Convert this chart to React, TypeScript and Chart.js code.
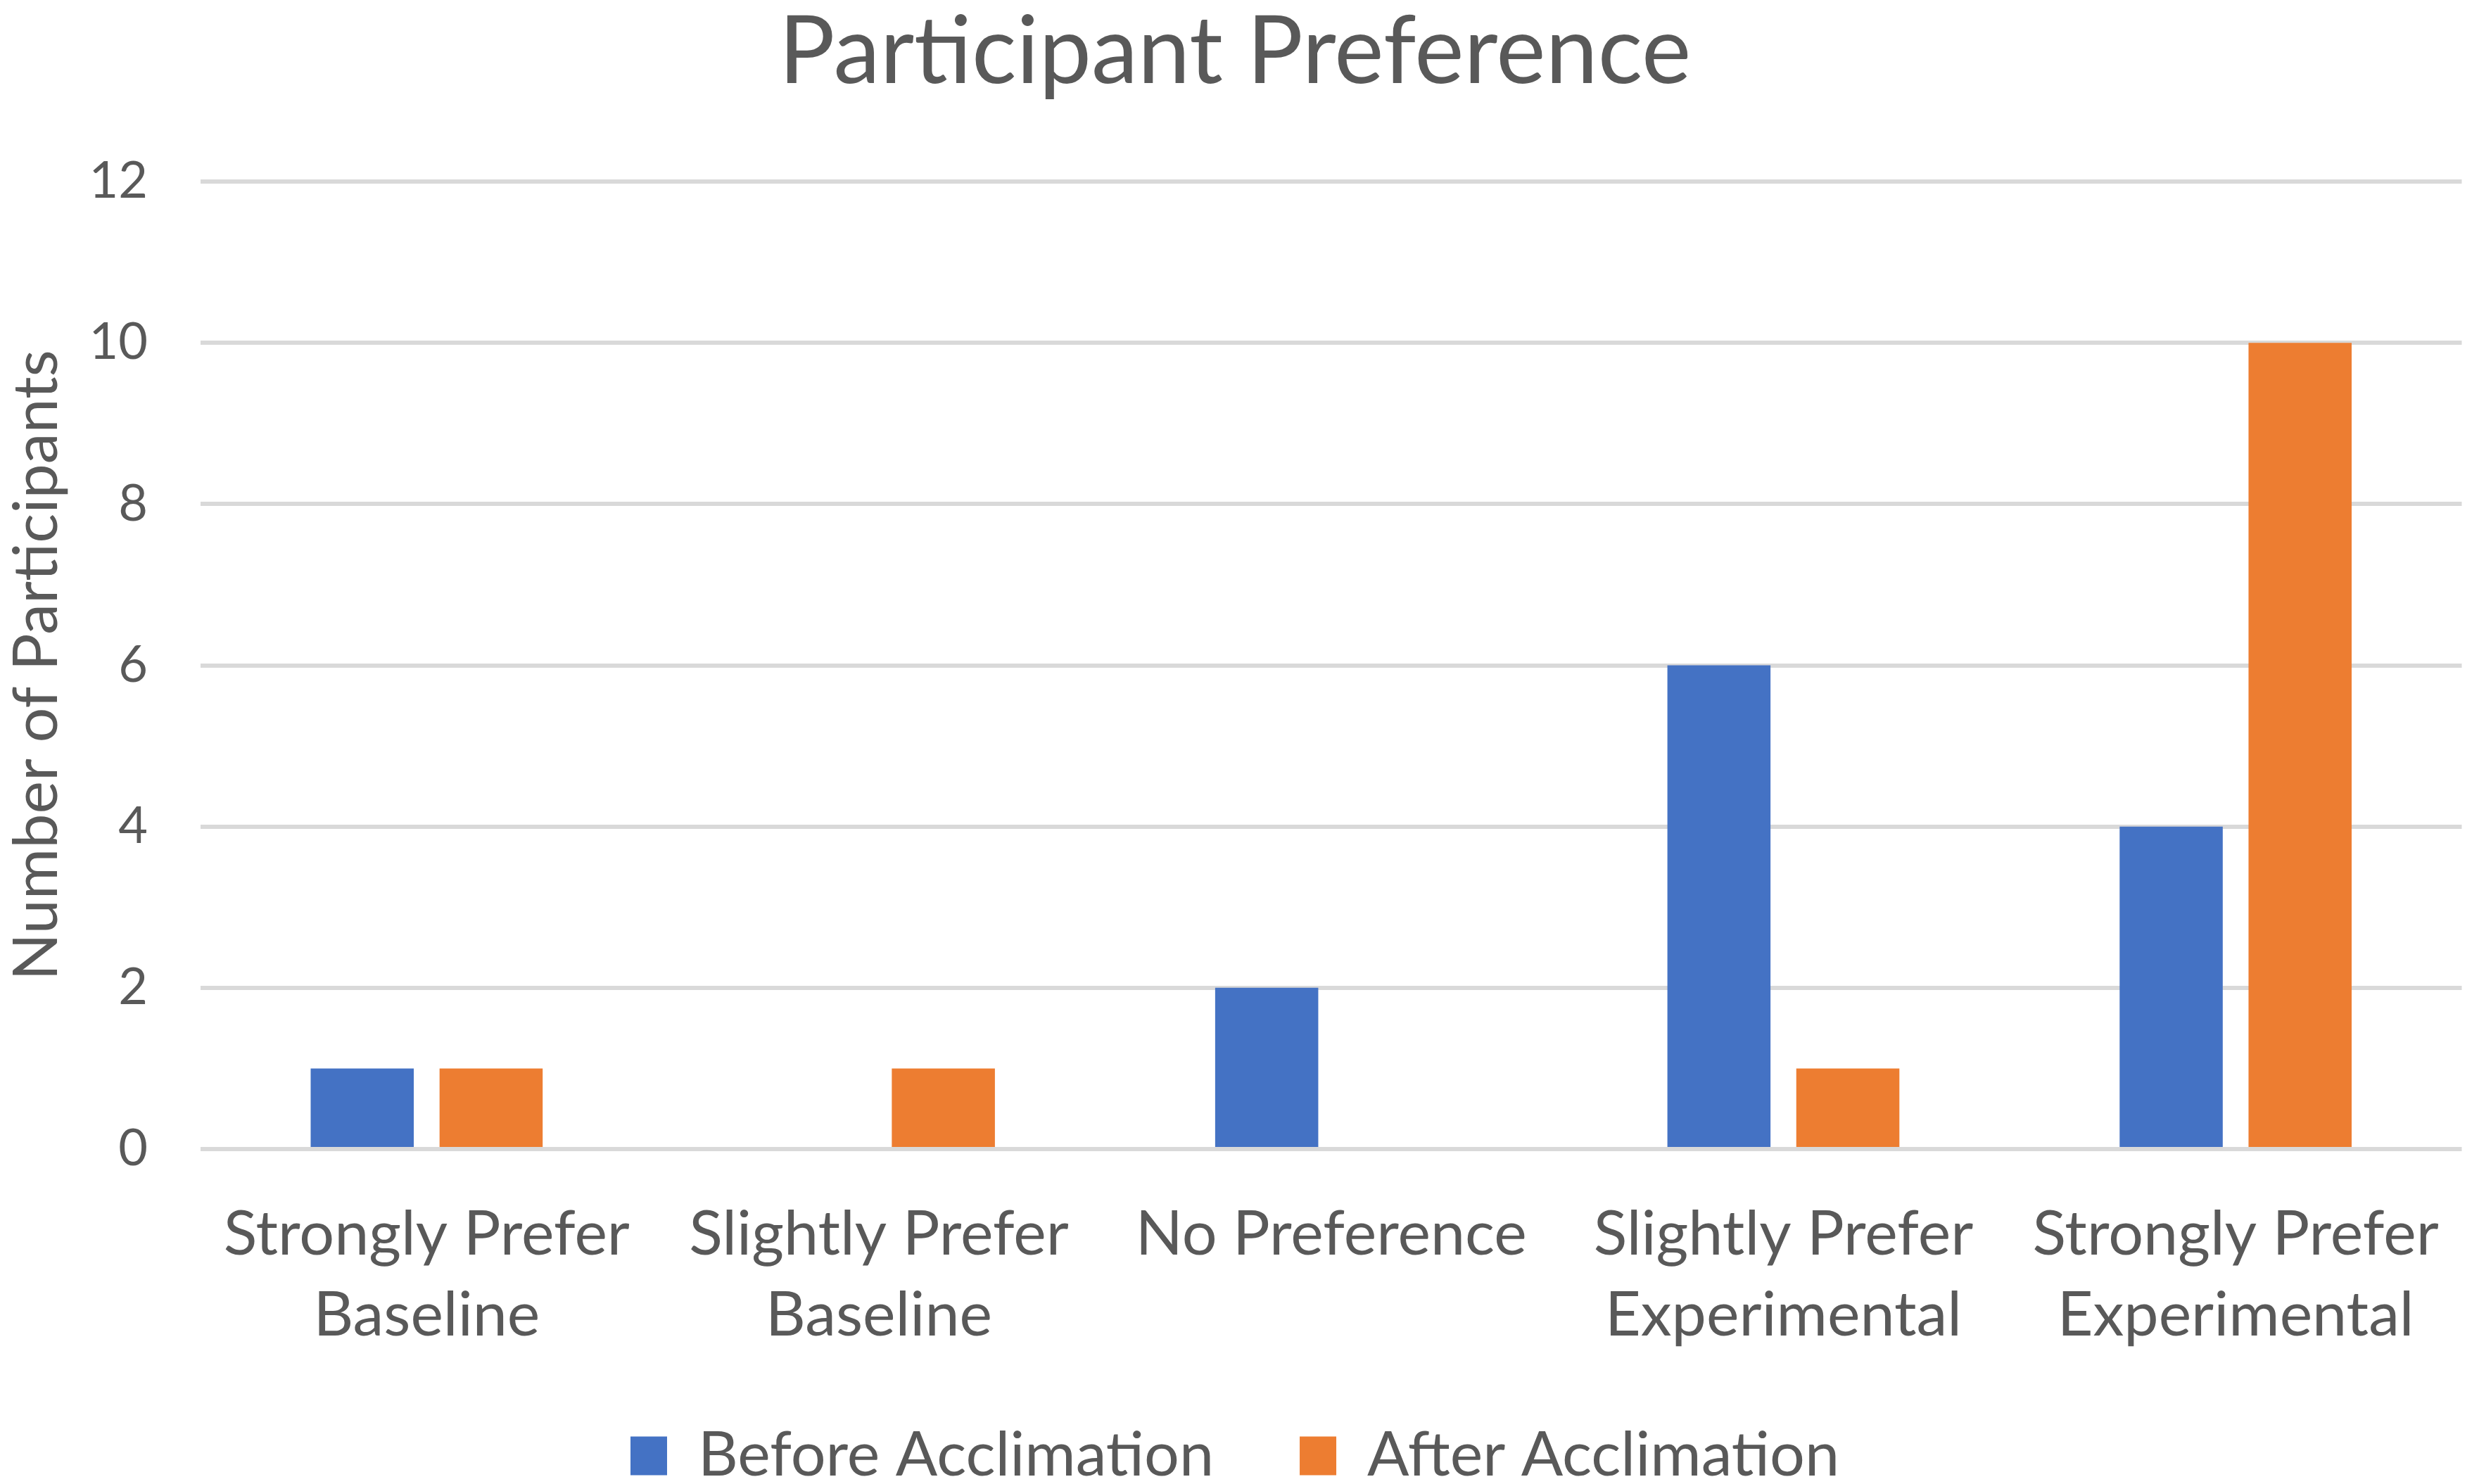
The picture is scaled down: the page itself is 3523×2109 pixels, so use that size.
import React, { useEffect, useRef } from "react";
import { Chart, registerables } from "chart.js";

Chart.register(...registerables);

const categories: string[][] = [
  ["Strongly Prefer", "Baseline"],
  ["Slightly Prefer", "Baseline"],
  ["No Preference"],
  ["Slightly Prefer", "Experimental"],
  ["Strongly Prefer", "Experimental"],
];
const beforeValues: number[] = [1, 0, 2, 6, 4];
const afterValues: number[] = [1, 1, 0, 1, 10];
const seriesNames: string[] = ["Before Acclimation", "After Acclimation"];
const chartTitle = "Participant Preference";
const yAxisTitle = "Number of Participants";
const yMin = 0;
const yMax = 12;
const yStep = 2;

const FONT = "Lato, 'Open Sans', sans-serif";
const TEXT = "#595959";
const GRID = "#D9D9D9";
const W = 3523;
const H = 2109;

export default function App() {
  const ref = useRef<HTMLCanvasElement | null>(null);
  useEffect(() => {
    document.body.style.margin = "0";
    const ctx = ref.current!;
    const chart = new Chart(ctx, {
      type: "bar",
      data: {
        labels: categories,
        datasets: [
          {
            label: seriesNames[0],
            data: beforeValues,
            backgroundColor: "#4472C4",
            categoryPercentage: 0.57,
            barPercentage: 0.8,
          },
          {
            label: seriesNames[1],
            data: afterValues,
            backgroundColor: "#ED7D31",
            categoryPercentage: 0.57,
            barPercentage: 0.8,
          },
        ],
      },
      options: {
        animation: false,
        responsive: false,
        devicePixelRatio: 1,
        layout: { padding: { left: 0, right: 13, top: 0, bottom: -14 } },
        plugins: {
          title: {
            display: true,
            text: chartTitle,
            color: TEXT,
            font: { family: FONT, size: 133, weight: "normal", lineHeight: 1.0 },
            padding: { top: 9, bottom: 116 },
          },
          legend: {
            position: "bottom",
            labels: {
              color: TEXT,
              font: { family: FONT, size: 88 },
              boxWidth: 52,
              boxHeight: 55,
              padding: 122,
            },
          },
          tooltip: { enabled: false },
        },
        scales: {
          x: {
            grid: { display: false },
            border: { display: false },
            ticks: {
              color: TEXT,
              font: { family: FONT, size: 88, lineHeight: 1.31 },
              padding: 56,
              maxRotation: 0,
              autoSkip: false,
            },
            afterFit: (s: any) => {
              s.height = 270;
              s._computeLabelArea = () => undefined;
            },
          },
          y: {
            min: yMin,
            max: yMax,
            border: { display: false },
            grid: { color: GRID, lineWidth: 6, drawTicks: false },
            ticks: {
              stepSize: yStep,
              color: TEXT,
              font: { family: FONT, size: 72 },
              padding: 75,
            },
            title: {
              display: true,
              text: yAxisTitle,
              color: TEXT,
              font: { family: FONT, size: 88, lineHeight: 1.2 },
              padding: { top: 0, bottom: 0 },
            },
            afterFit: (s: any) => {
              s.width = 285;
            },
          },
        },
      },
    });
    return () => chart.destroy();
  }, []);
  return (
    <div style={{ width: W, height: H, background: "#fff" }}>
      <canvas ref={ref} width={W} height={H} style={{ display: "block" }} />
    </div>
  );
}
